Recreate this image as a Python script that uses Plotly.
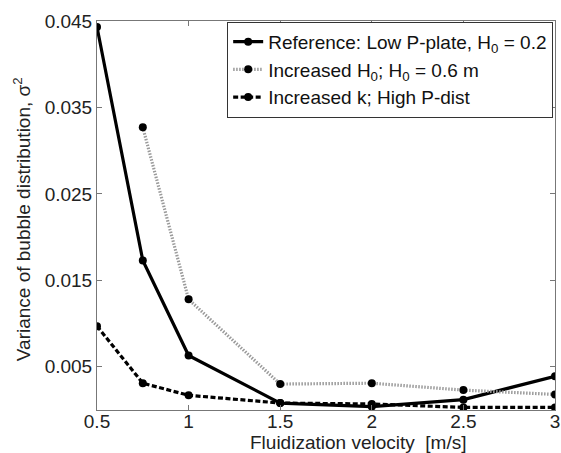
import plotly.graph_objects as go

velocity = [0.5, 0.75, 1.0, 1.5, 2.0, 2.5, 3.0]
reference = [0.0443, 0.0173, 0.0063, 0.0008, 0.0004, 0.0012, 0.0039]
vel_h0 = [0.75, 1.0, 1.5, 2.0, 2.5, 3.0]
increased_h0 = [0.0327, 0.0128, 0.0030, 0.0031, 0.0023, 0.0018]
increased_k = [0.0097, 0.0031, 0.0017, 0.0008, 0.0007, 0.0003, 0.0003]

names = ["Reference: Low P-plate, H<sub>0</sub> = 0.2",
         "Increased H<sub>0</sub>; H<sub>0</sub> = 0.6 m",
         "Increased k; High P-dist"]
x_ticks = [0.5, 1, 1.5, 2, 2.5, 3]
x_labels = ["0.5", "1", "1.5", "2", "2.5", "3"]
y_ticks = [0.005, 0.015, 0.025, 0.035, 0.045]
y_labels = ["0.005", "0.015", "0.025", "0.035", "0.045"]

FONT = "Liberation Sans, Arial, sans-serif"

fig = go.Figure()
fig.add_trace(go.Scatter(x=velocity, y=reference, mode="lines+markers", name=names[0],
                         line=dict(color="black", width=3.2),
                         marker=dict(color="black", size=8)))
fig.add_trace(go.Scatter(x=vel_h0, y=increased_h0, mode="lines+markers", name=names[1],
                         line=dict(color="#9a9a9a", width=3.2, dash="1.5px,1.5px"),
                         marker=dict(color="black", size=8)))
fig.add_trace(go.Scatter(x=velocity, y=increased_k, mode="lines+markers", name=names[2],
                         line=dict(color="black", width=3.2, dash="5px,2.5px"),
                         marker=dict(color="black", size=8)))

fig.update_layout(
    width=561, height=453,
    margin=dict(l=97, r=6, t=21, b=43, autoexpand=False),
    paper_bgcolor="white", plot_bgcolor="white",
    font=dict(family=FONT, size=19, color="#222"),
    showlegend=True,
    legend=dict(x=0.996, y=0.998, xanchor="right", yanchor="top",
                bgcolor="white", bordercolor="#333", borderwidth=1,
                font=dict(family=FONT, size=19, color="#111"),
                itemwidth=30, tracegroupgap=0),
    xaxis=dict(range=[0.5, 3], tickvals=x_ticks, ticktext=x_labels,
               ticks="inside", ticklen=5, tickcolor="#777",
               showline=True, linecolor="#777", linewidth=1, mirror="allticks",
               showgrid=False, zeroline=False, automargin=False,
               ticklabelstandoff=-6,
               tickfont=dict(size=19)),
    yaxis=dict(range=[0, 0.045], tickvals=y_ticks, ticktext=y_labels,
               ticks="inside", ticklen=5, tickcolor="#777",
               showline=True, linecolor="#777", linewidth=1, mirror="allticks",
               showgrid=False, zeroline=False, automargin=False,
               tickfont=dict(size=19)),
    annotations=[
        dict(text="Fluidization velocity  [m/s]", xref="paper", yref="paper",
             x=0.57, y=-0.083, xanchor="center", yanchor="middle",
             showarrow=False, font=dict(size=19)),
        dict(text="Variance of bubble distribution, σ<sup>2</sup>", xref="paper", yref="paper",
             x=-0.162, y=0.49, xanchor="center", yanchor="middle", textangle=-90,
             showarrow=False, font=dict(size=19)),
    ],
)

fig.write_html("out.html", config={"displayModeBar": False},
               post_script="document.body.style.margin='0';document.body.style.overflow='hidden';")
